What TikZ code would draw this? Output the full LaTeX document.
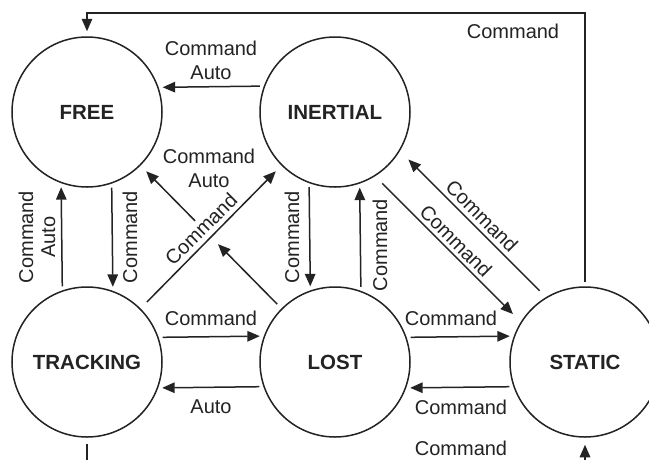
\documentclass[tikz,border=0pt]{standalone}
\usepackage{fontspec}
\setmainfont{Liberation Sans}
\usetikzlibrary{arrows.meta,calc}
\definecolor{ink}{RGB}{35,35,35}
\begin{document}
\begin{tikzpicture}[x=1pt,y=-1pt,
  line width=1.5pt, color=ink,
  state/.style={circle,draw,minimum size=150pt,inner sep=0pt,
    font=\fontsize{20.5}{24}\selectfont\bfseries},
  lbl/.style={font=\fontsize{20}{24}\selectfont,align=center,inner sep=0pt},
  arr/.style={-{Triangle[length=12.5pt,width=10.5pt]},shorten <=4pt,shorten >=4pt},
]
% page frame
\clip (0,0) rectangle (649,459);
\fill[white] (0,0) rectangle (649,459);

% states
\node[state] (free)     at (87,112)  {FREE};
\node[state] (inertial) at (335,112) {INERTIAL};
\node[state] (tracking) at (87,362)  {TRACKING};
\node[state] (lost)     at (335,362) {LOST};
\node[state] (static)   at (585,362) {STATIC};

% straight transitions
\draw[arr] (inertial.160.5) -- (free.19.5);
\draw[arr] (tracking.109.5) -- (free.250.5);
\draw[arr] (free.289.5) -- (tracking.70.5);
\draw[arr] (inertial.250.5) -- (lost.109.5);
\draw[arr] (lost.70.5) -- (inertial.289.5);
\draw[arr] (tracking.19.5) -- (lost.160.5);
\draw[arr] (lost.199.5) -- (tracking.340.5);
\draw[arr] (lost.19.5) -- (static.160.5);
\draw[arr] (static.199.5) -- (lost.340.5);

% diagonal transitions
\draw[arr,shorten <=9pt,shorten >=8pt] (tracking.45) -- (inertial.225);
\draw[arr,shorten <=9pt,shorten >=12pt] (static.121.4) -- (inertial.-31.4);
\draw[arr,shorten <=10pt,shorten >=11pt] (inertial.-58.6) -- (static.148.6);

% LOST -> FREE, broken where it crosses the label
\coordinate (brkA) at ($(lost.135)!0.45!(free.-45)$);
\coordinate (brkB) at ($(lost.135)!0.613!(free.-45)$);
\draw[arr,shorten <=6pt,shorten >=0pt] (lost.135) -- (brkA);
\draw[arr,shorten <=0pt,shorten >=8pt] (brkB) -- (free.-45);

% STATIC -> FREE over the top
\coordinate (topline) at (0,13);
\draw[arr,shorten <=4pt,shorten >=5pt]
  (static.north) -- (static.north |- topline) -| (free.north);

% connections running off the bottom
\coordinate (below) at (0,480);
\draw[shorten <=6pt] (tracking.south) -- (tracking.south |- below);
\draw[arr,shorten <=0pt,shorten >=7pt] (static.south |- below) -- (static.south);

% labels
\node[lbl] (lTop) at (513,31) {Command};
\node[lbl] (lIF) at (211,60) {Command\\Auto};
\node[lbl] (lLF) at (209,168.5) {Command\\Auto};
\node[lbl,rotate=45] (lTI) at (201,229) {Command};
\node[lbl,rotate=90,font=\fontsize{20}{22}\selectfont] (lTF) at (37,237) {Command\\Auto};
\node[lbl,rotate=90] (lFT) at (130,237) {Command};
\node[lbl,rotate=90] (lIL) at (292,237) {Command};
\node[lbl,rotate=90] (lLI) at (380,245) {Command};
\node[lbl,rotate=-45] (lSI) at (482,216) {Command};
\node[lbl,rotate=-45] (lIS) at (456,241) {Command};
\node[lbl] (lTL) at (211,318) {Command};
\node[lbl] (lLT) at (211,407) {Auto};
\node[lbl] (lLS) at (451,318) {Command};
\node[lbl] (lSL) at (461,407) {Command};
\node[lbl] (lBot) at (461,448) {Command};
\end{tikzpicture}
\end{document}
